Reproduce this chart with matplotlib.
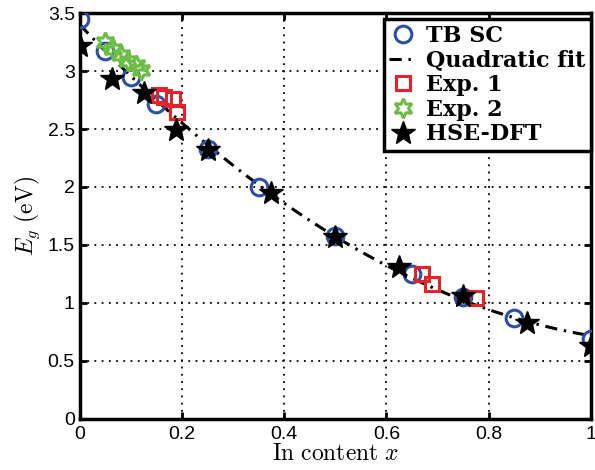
import numpy as np
import matplotlib
matplotlib.use('Agg')
import matplotlib.pyplot as plt

plt.rcParams['mathtext.fontset'] = 'cm'
plt.rcParams['font.family'] = ['Liberation Sans', 'DejaVu Sans']

# TB SC
tb_x = [0.0, 0.05, 0.1, 0.15, 0.25, 0.35, 0.5, 0.65, 0.75, 0.85, 1.0]
tb_y = [3.45, 3.17, 2.95, 2.72, 2.33, 2.00, 1.58, 1.25, 1.05, 0.87, 0.69]

# Exp. 1
exp1_x = [0.155, 0.165, 0.182, 0.19, 0.67, 0.69, 0.775]
exp1_y = [2.79, 2.78, 2.76, 2.65, 1.25, 1.16, 1.04]

# Exp. 2
exp2_x = [0.05, 0.065, 0.08, 0.095, 0.11, 0.12]
exp2_y = [3.25, 3.19, 3.14, 3.09, 3.05, 3.01]

# HSE-DFT
hse_x = [0.0, 0.0625, 0.125, 0.1875, 0.25, 0.375, 0.5, 0.625, 0.75, 0.875, 1.0]
hse_y = [3.22, 2.93, 2.81, 2.49, 2.32, 1.95, 1.57, 1.31, 1.06, 0.83, 0.63]

labels = ['TB SC', 'Quadratic fit', 'Exp. 1', 'Exp. 2', 'HSE-DFT']
xticks = [0, 0.2, 0.4, 0.6, 0.8, 1]
yticks = [0, 0.5, 1, 1.5, 2, 2.5, 3, 3.5]

fig = plt.figure(figsize=(5.95, 4.7), dpi=100)
ax = fig.add_axes([0.134, 0.109, 0.859, 0.863])

coef = np.polyfit(tb_x, tb_y, 2)
xf = np.linspace(0, 1, 200)

ax.plot(tb_x, tb_y, 'o', ms=12, mfc='none', mec='#2b4fa6', mew=2.2,
        label=labels[0], zorder=3)
ax.plot(xf, np.polyval(coef, xf), color='black', lw=2.2,
        dashes=(4, 2.2, 0.8, 2.2), label=labels[1], zorder=2)
ax.plot(exp1_x, exp1_y, 's', ms=10, mfc='none', mec='#e8202a', mew=2.2,
        label=labels[2], zorder=4)
ax.plot(exp2_x, exp2_y, marker=(6, 1, 0), ls='none', ms=14, mfc='none',
        mec='#6cbd45', mew=2.2, label=labels[3], zorder=4)
ax.plot(hse_x, hse_y, '*', ms=18, mfc='black', mec='black', mew=1,
        label=labels[4], zorder=5)

ax.set_xlim(0, 1)
ax.set_ylim(0, 3.5)
ax.set_xticks(xticks)
ax.set_xticklabels(['0', '0.2', '0.4', '0.6', '0.8', '1'])
ax.set_yticks(yticks)
ax.set_yticklabels(['0', '0.5', '1', '1.5', '2', '2.5', '3', '3.5'])
ax.tick_params(direction='in', top=True, right=True, labelsize=14,
               width=2, length=5)
ax.tick_params(axis='x', pad=5)
ax.grid(True, color='black', ls=(0, (1, 3)), lw=1.3)
for s in ax.spines.values():
    s.set_linewidth(2.5)

ax.set_xlabel(r'$\mathrm{In\ content}\ x$', fontsize=17, labelpad=0)
ax.set_ylabel(r'$E_g\ \mathrm{(eV)}$', fontsize=17, labelpad=4)

leg = ax.legend(loc='upper right', bbox_to_anchor=(1.0, 0.985),
                prop={'family': 'DejaVu Serif', 'weight': 'bold', 'size': 16},
                fancybox=False, framealpha=1, edgecolor='black',
                borderpad=0.25, labelspacing=0.12, handlelength=1.2,
                handletextpad=0.45, borderaxespad=0)
leg.get_frame().set_linewidth(2.5)

fig.savefig('out.png', dpi=100)
